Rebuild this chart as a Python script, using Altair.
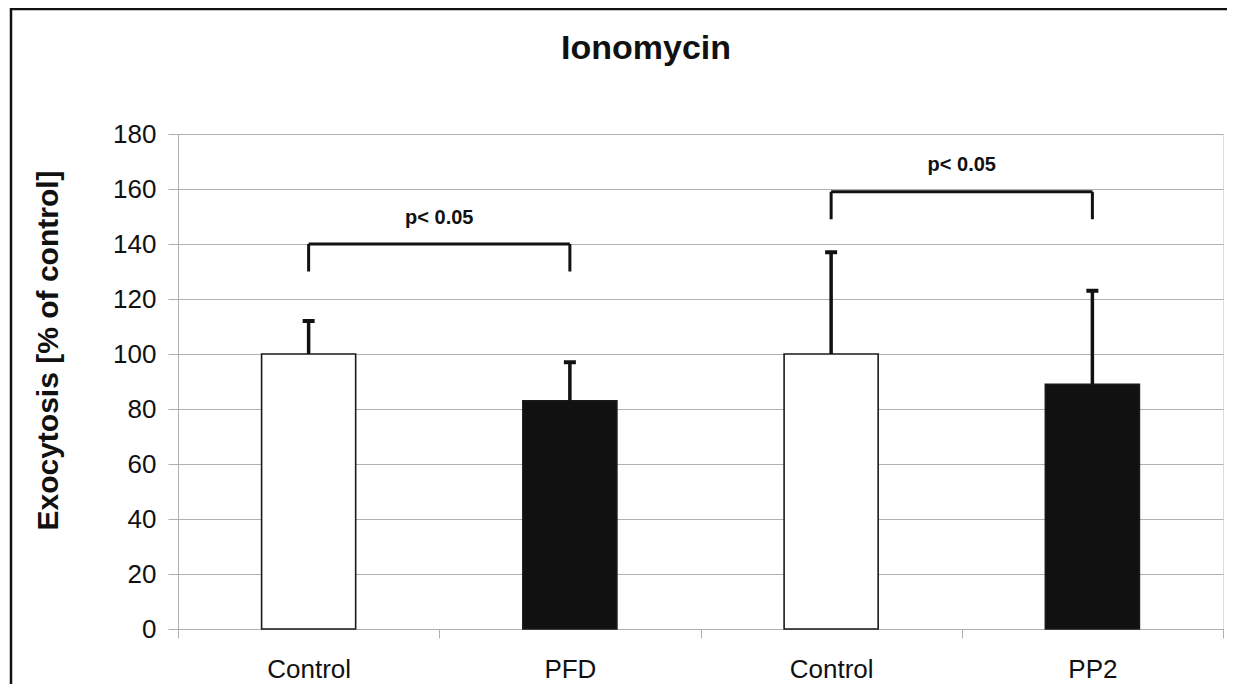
import altair as alt
import pandas as pd

# ---- data ----
categories = ["Control", "PFD", "Control", "PP2"]
groups = ["control", "treatment", "control", "treatment"]
means = [100, 83, 100, 89]
errors = [12, 14, 37, 34]

bracket_left = [0, 2]       # index of left bar
bracket_right = [1, 3]      # index of right bar
bracket_top = [140, 159]
bracket_leg = [130, 149]
p_labels = ["p< 0.05", "p< 0.05"]
p_y = [147.3, 166.5]

y_ticks = [0, 20, 40, 60, 80, 100, 120, 140, 160, 180]
chart_title = "Ionomycin"

keys = [f"{c}#{i}" for i, c in enumerate(categories)]

bars_df = pd.DataFrame({
    "key": keys,
    "group": groups,
    "mean": means,
    "top": [m + e for m, e in zip(means, errors)],
})

br_df = pd.DataFrame({
    "left": [keys[i] for i in bracket_left],
    "right": [keys[i] for i in bracket_right],
    "top": bracket_top,
    "leg": bracket_leg,
    "label": p_labels,
    "ly": p_y,
})

FONT = "Liberation Sans"
W, H = 1045, 495

x_scale = alt.Scale(domain=keys, paddingInner=0, paddingOuter=0)
y_scale = alt.Scale(domain=[0, 180], nice=False)

x_enc = alt.X(
    "key:N",
    scale=x_scale,
    sort=keys,
    axis=alt.Axis(
        title=None,
        labelAngle=0,
        labelExpr="split(datum.label, '#')[0]",
        labelFont=FONT,
        labelFontSize=26,
        labelColor="#111",
        labelPadding=18,
        tickBand="extent",
        tickSize=9,
        tickColor="#b0b0b0",
        domainColor="#b0b0b0",
        grid=False,
    ),
)

y_axis = alt.Axis(
    values=y_ticks,
    title="Exocytosis [% of control]",
    titleFont=FONT,
    titleFontSize=30,
    titleFontWeight="bold",
    titleColor="#111",
    titleAngle=270,
    titleAlign="center",
    titleBaseline="alphabetic",
    titleX=-121,
    titleY=216,
    labelFont=FONT,
    labelFontSize=26,
    labelColor="#111",
    labelPadding=12,
    tickSize=10,
    tickColor="#b0b0b0",
    domainColor="#b0b0b0",
    gridColor="#b0b0b0",
    gridWidth=1,
)

bars = alt.Chart(bars_df).mark_bar(
    width=alt.RelativeBandSize(0.36), stroke="#1a1a1a", strokeWidth=1.6
).encode(
    x=x_enc,
    y=alt.Y("mean:Q", scale=y_scale, axis=y_axis),
    fill=alt.Fill("group:N", scale=alt.Scale(domain=["control", "treatment"], range=["#ffffff", "#111111"]), legend=None),
)

err = alt.Chart(bars_df).mark_rule(color="#111", strokeWidth=3.5).encode(
    x=alt.X("key:N", sort=keys),
    y=alt.Y("mean:Q"),
    y2="top:Q",
)

caps = alt.Chart(bars_df).mark_tick(
    color="#111", size=12, thickness=4, orient="horizontal", opacity=1
).encode(
    x=alt.X("key:N", sort=keys),
    y=alt.Y("top:Q"),
)

br_h = alt.Chart(br_df).mark_rule(color="#111", strokeWidth=3).encode(
    x=alt.X("left:N", sort=keys),
    x2="right:N",
    y=alt.Y("top:Q"),
)
br_l = alt.Chart(br_df).mark_rule(color="#111", strokeWidth=3).encode(
    x=alt.X("left:N", sort=keys),
    y=alt.Y("leg:Q"),
    y2="top:Q",
)
br_r = alt.Chart(br_df).mark_rule(color="#111", strokeWidth=3).encode(
    x=alt.X("right:N", sort=keys),
    y=alt.Y("leg:Q"),
    y2="top:Q",
)
ptext = alt.Chart(br_df).mark_text(
    font=FONT, fontSize=20, fontWeight="bold", color="#111", baseline="alphabetic", align="center"
).encode(
    x=alt.X("left:N", sort=keys, bandPosition=1),
    y=alt.Y("ly:Q"),
    text="label:N",
)

title = alt.Chart(alt.Data(values=[{"t": chart_title}])).mark_text(
    font=FONT, fontSize=34, fontWeight="bold", color="#111", baseline="alphabetic", align="center"
).encode(
    x=alt.value(468), y=alt.value(-75), text="t:N"
)

# outer frame: only the top and left edges are visible in the reference
frame_top = alt.Chart(alt.Data(values=[{}])).mark_rule(color="#111", strokeWidth=2.5).encode(
    x=alt.value(-168), x2=alt.value(1060), y=alt.value(-125)
)
frame_left = alt.Chart(alt.Data(values=[{}])).mark_rule(color="#111", strokeWidth=2.5).encode(
    x=alt.value(-167), y=alt.value(-126), y2=alt.value(570)
)

chart = alt.layer(frame_top, frame_left, bars, err, caps, br_h, br_l, br_r, ptext, title).properties(
    width=W,
    height=H,
    autosize=alt.AutoSizeParams(type="none"),
    padding={"left": 170, "top": 126, "right": 4, "bottom": 55},
).configure_view(stroke=None).configure(background="white")

chart.save("out.html", embed_options={"renderer": "svg", "actions": False})
